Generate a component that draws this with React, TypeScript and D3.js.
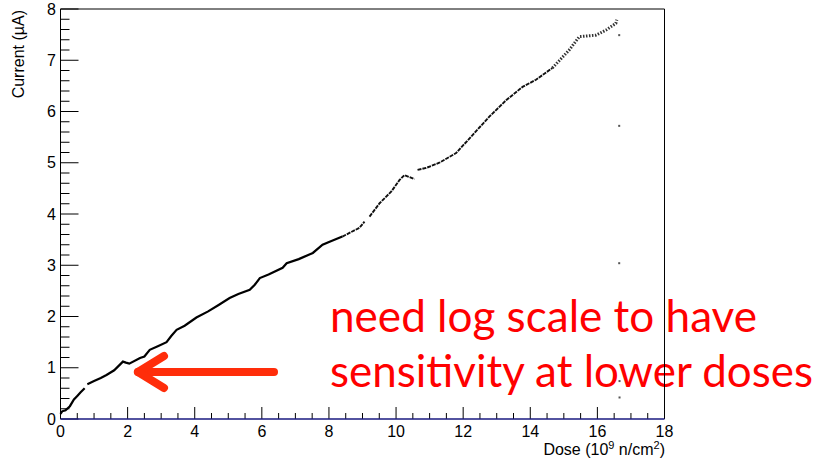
import React from "react";
import * as d3 from "d3";

// Main measured curve (NaN = gap in data)
const dose = [
  0.0, 0.05, 0.15, 0.28, 0.4, 0.5, 0.6, 0.72, NaN,
  0.8, 1.0, 1.2, 1.37, 1.6, 1.86, 1.95, 2.05, 2.37, 2.5, 2.66, 2.9, 3.16, 3.3, 3.46, 3.7,
  4.05, 4.4, 4.7, 5.04, 5.3, 5.64, 5.79, 5.94, 6.2, 6.62, 6.74, 7.1, 7.52, 7.81, 8.02,
  8.4, 8.91, 9.06, NaN,
  9.21, 9.51, 9.86, 10.1, 10.25, 10.4, 10.55, NaN,
  10.64, 10.9, 11.29, 11.79, 12.28, 12.78, 13.28, 13.77, 14.17, 14.66, 15.16, 15.46,
  15.96, 16.26, 16.55, 16.58,
];
const current = [
  0.1, 0.15, 0.17, 0.25, 0.38, 0.45, 0.52, 0.6, NaN,
  0.68, 0.74, 0.8, 0.86, 0.95, 1.12, 1.1, 1.08, 1.19, 1.22, 1.35, 1.42, 1.5, 1.62, 1.74, 1.82,
  1.98, 2.1, 2.22, 2.36, 2.44, 2.52, 2.62, 2.75, 2.82, 2.95, 3.04, 3.12, 3.24, 3.4, 3.46,
  3.56, 3.73, 3.85, NaN,
  3.95, 4.21, 4.44, 4.66, 4.76, 4.72, 4.68, NaN,
  4.86, 4.9, 5.0, 5.19, 5.54, 5.9, 6.22, 6.48, 6.62, 6.85, 7.2, 7.46,
  7.49, 7.59, 7.72, 7.79,
];
// isolated points at the end of the run
const outlierDose = [16.65, 16.65, 16.65, 16.66, 16.66];
const outlierCurrent = [7.49, 5.72, 3.04, 0.74, 0.42];

const xTicks = [0, 2, 4, 6, 8, 10, 12, 14, 16, 18];
const yTicks = [0, 1, 2, 3, 4, 5, 6, 7, 8];

const annotationLines = ["need log scale to have", "sensitivity at lower doses"];

export default function App() {
  const W = 821, H = 460;
  const x = d3.scaleLinear().domain([0, 18]).range([60.5, 664.5]);
  const y = d3.scaleLinear().domain([0, 8]).range([419, 9]);

  const pts = dose.map((d, i) => [d, current[i]] as [number, number]);
  const line = d3
    .line<[number, number]>()
    .defined((p) => !isNaN(p[0]) && !isNaN(p[1]))
    .x((p) => x(p[0]))
    .y((p) => y(p[1]));

  const lowPts = pts.filter((p) => isNaN(p[0]) || p[0] <= 8.5);
  const midPts = pts.filter((p) => isNaN(p[0]) || (p[0] >= 8.4 && p[0] <= 14.7));
  const topPts = pts.filter((p) => isNaN(p[0]) || p[0] >= 14.6);

  const xMinor = d3.range(0, 18.001, 0.5).filter((v) => Math.abs(v % 2) > 1e-9);
  const yMinor = d3.range(0, 8.001, 0.2).filter((v) => Math.abs(v - Math.round(v)) > 1e-6);

  const font = "'Liberation Sans', Arial, sans-serif";

  return (
    <svg
      width={W}
      height={H}
      style={{ position: "absolute", left: 0, top: 0, background: "#fff" }}
      fontFamily={font}
    >
      <rect x={0} y={0} width={W} height={H} fill="#fff" />
      {/* frame */}
      <line x1={x(0)} x2={x(18)} y1={y(8)} y2={y(8)} stroke="#000" strokeWidth={1} />
      <line x1={x(0)} x2={x(0)} y1={y(8)} y2={y(0)} stroke="#000" strokeWidth={1} />

      {/* y ticks */}
      {yTicks.map((t) => (
        <line key={"ym" + t} x1={x(0)} x2={x(0) + 18} y1={y(t)} y2={y(t)} stroke="#000" />
      ))}
      {yMinor.map((t, i) => (
        <line key={"yn" + i} x1={x(0)} x2={x(0) + 9} y1={y(t)} y2={y(t)} stroke="#000" />
      ))}
      {yTicks.map((t) => (
        <text key={"yl" + t} x={56} y={y(t) + 5.7} fontSize={16} textAnchor="end" fill="#000">
          {t}
        </text>
      ))}

      {/* x ticks */}
      {xTicks.map((t) => (
        <line key={"xm" + t} x1={x(t)} x2={x(t)} y1={y(0)} y2={y(0) - 12} stroke="#000" />
      ))}
      {xMinor.map((t, i) => (
        <line key={"xn" + i} x1={x(t)} x2={x(t)} y1={y(0)} y2={y(0) - 6} stroke="#000" />
      ))}
      {xTicks.map((t) => (
        <text key={"xl" + t} x={x(t)} y={437} fontSize={16} textAnchor="middle" fill="#000">
          {t}
        </text>
      ))}

      {/* axis titles */}
      <text x={665} y={455} fontSize={16} textAnchor="end" fill="#000">
        Dose (10<tspan dy={-6} fontSize={11}>9</tspan>
        <tspan dy={6}> n/cm</tspan>
        <tspan dy={-6} fontSize={11}>2</tspan>
        <tspan dy={6}>)</tspan>
      </text>
      <text
        transform="translate(24,10) rotate(-90)"
        fontSize={16}
        textAnchor="end"
        fill="#000"
      >
        Current (µA)
      </text>

      {/* data */}
      <path d={line(lowPts) || ""} fill="none" stroke="#000" strokeWidth={2.2} />
      <path
        d={line(midPts) || ""}
        fill="none"
        stroke="#111"
        strokeWidth={1.9}
        strokeDasharray="4 1"
      />
      <path
        d={line(topPts) || ""}
        fill="none"
        stroke="#333"
        strokeWidth={3}
        strokeDasharray="1.5 1.5"
      />
      {outlierDose.map((d, i) => (
        <rect
          key={"o" + i}
          x={x(d) - 1}
          y={y(outlierCurrent[i]) - 1}
          width={2}
          height={2}
          fill="#555"
        />
      ))}

      {/* annotation */}
      <g stroke="#ff2d0a" strokeWidth={8} strokeLinecap="round" fill="none">
        <line x1={138} y1={372} x2={274} y2={372} />
        <line x1={138} y1={372} x2={164} y2={356} />
        <line x1={138} y1={372} x2={164} y2={388} />
      </g>
      <text
        x={330}
        y={332}
        fontSize={45}
        fill="#ff0000"
        fontFamily="Lato, 'Open Sans', sans-serif"
        textLength={427}
        lengthAdjust="spacingAndGlyphs"
      >
        {annotationLines[0]}
      </text>
      <text
        x={330}
        y={387}
        fontSize={45}
        fill="#ff0000"
        fontFamily="Lato, 'Open Sans', sans-serif"
        textLength={483}
        lengthAdjust="spacingAndGlyphs"
      >
        {annotationLines[1]}
      </text>

      {/* right frame edge and x axis line drawn over the annotation */}
      <line x1={x(18)} x2={x(18)} y1={y(8)} y2={y(0)} stroke="#000" strokeWidth={1} />
      <line x1={x(0)} x2={x(18)} y1={y(0)} y2={y(0)} stroke="#1a1a80" strokeWidth={1.5} />
    </svg>
  );
}
